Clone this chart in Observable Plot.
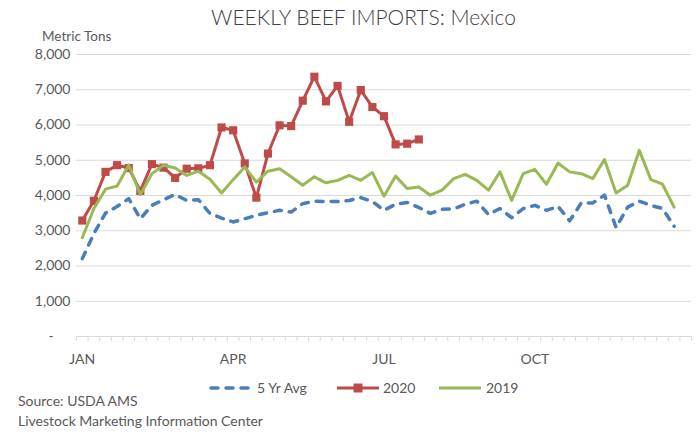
<!DOCTYPE html>
<html><head><meta charset="utf-8">
<script src="https://cdn.jsdelivr.net/npm/d3@7"></script>
<script src="https://cdn.jsdelivr.net/npm/@observablehq/plot@0.6"></script>
<style>
body{margin:0;background:#fff;font-family:Lato,"Open Sans",sans-serif;color:#595959;}
#wrap{position:relative;width:699px;height:432px;overflow:hidden;}
#wrap svg.plot{position:absolute;left:0;top:0;}
.abs{position:absolute;white-space:nowrap;line-height:1.1;}
</style></head>
<body><div id="wrap"></div>
<script>
const title = "WEEKLY BEEF IMPORTS: Mexico";
const yTitle = "Metric Tons";
const sourceLines = ["Source: USDA AMS", "Livestock Marketing Information Center"];
const seriesNames = ["5 Yr Avg", "2020", "2019"];
const seriesColors = ["#4a7ebb", "#be4b48", "#98b954"];
const weekCount = 53;
const monthLabels = ["JAN", "APR", "JUL", "OCT"];
const monthWeeks = [0, 13, 26, 39];
const yTicks = [0, 1000, 2000, 3000, 4000, 5000, 6000, 7000, 8000];

const avg5 = [2210,2920,3500,3690,3910,3340,3720,3880,4030,3860,3880,3490,3360,3250,3340,3440,3510,3580,3530,3770,3840,3830,3830,3860,3940,3830,3580,3750,3800,3660,3490,3610,3620,3750,3840,3460,3630,3370,3630,3720,3580,3690,3280,3790,3790,4010,3090,3670,3840,3720,3630,3130];
const y2020 = [3290,3850,4670,4860,4780,4130,4890,4790,4500,4760,4770,4860,5930,5850,4910,3940,5190,5990,5970,6690,7370,6670,7110,6090,6990,6510,6250,5450,5470,5590];
const y2019 = [2800,3630,4180,4270,4860,4030,4620,4860,4780,4570,4690,4460,4070,4450,4810,4380,4690,4760,4530,4290,4530,4360,4430,4570,4430,4650,3980,4550,4200,4240,4010,4150,4480,4600,4430,4150,4670,3860,4620,4740,4320,4920,4670,4620,4480,5020,4070,4290,5280,4450,4320,3670];

const toRows = arr => arr.map((v, i) => ({x: i + 0.5, y: v}));
const rAvg = toRows(avg5), r20 = toRows(y2020), r19 = toRows(y2019);

const chart = Plot.plot({
  width: 699, height: 432,
  marginLeft: 76, marginRight: 8, marginTop: 54, marginBottom: 96,
  style: {fontFamily: "Lato, sans-serif", fontSize: "14px", color: "#595959", background: "transparent"},
  x: {domain: [0, weekCount], label: null},
  y: {domain: [0, 8000], label: null},
  marks: [
    Plot.ruleY(yTicks.filter(d => d > 0), {stroke: "#d9d9d9", strokeWidth: 1.2}),
    Plot.ruleY([0], {stroke: "#d9d9d9", strokeWidth: 1.2}),
    Plot.axisX({ticks: d3.range(0, weekCount + 1), tickSize: 5, tickFormat: () => "", stroke: "#d9d9d9", strokeOpacity: 1, label: null}),
    Plot.axisX({ticks: monthWeeks.map(w => w + 0.5), tickSize: 0, tickPadding: 18, fontSize: 14, label: null,
      tickFormat: d => monthLabels[monthWeeks.indexOf(d - 0.5)], fill: "#595959"}),
    Plot.axisY({ticks: yTicks.filter(d => d > 0), tickSize: 0, tickPadding: 6, fontSize: 14, label: null,
      tickFormat: d3.format(","), fill: "#595959"}),
    Plot.text([0], {y: d => d, text: () => "-", frameAnchor: "left", dx: -28, fontSize: 14, fill: "#595959"}),
    Plot.line(rAvg, {x: "x", y: "y", stroke: seriesColors[0], strokeWidth: 3.5, strokeDasharray: "7,8", strokeLinecap: "round", strokeLinejoin: "round"}),
    Plot.line(r20, {x: "x", y: "y", stroke: seriesColors[1], strokeWidth: 3, strokeLinejoin: "round"}),
    Plot.dot(r20, {x: "x", y: "y", symbol: "square", r: 4.6, fill: seriesColors[1], stroke: "none"}),
    Plot.line(r19, {x: "x", y: "y", stroke: seriesColors[2], strokeWidth: 3, strokeLinejoin: "round"})
  ]
});
chart.classList.add("plot");
const wrap = document.getElementById("wrap");
wrap.appendChild(chart);

function addText(txt, left, top, css) {
  const d = document.createElement("div");
  d.className = "abs";
  d.textContent = txt;
  d.style.left = left + "px";
  d.style.top = top + "px";
  Object.assign(d.style, css || {});
  wrap.appendChild(d);
  return d;
}
addText(title, 0, 5, {width: "699px", textAlign: "center", fontSize: "21px", fontWeight: "300", color: "#404040", paddingLeft: "28px", boxSizing: "border-box"});
addText(yTitle, 42, 30, {fontSize: "13.5px", color: "#595959", lineHeight: "1"});
addText(sourceLines[0], 18, 393, {fontSize: "14px", color: "#595959"});
addText(sourceLines[1], 18, 413, {fontSize: "14px", color: "#595959"});

// legend
const legendX = [207, 335, 437];
const legendTextX = [257, 383, 486];
seriesNames.forEach((name, i) => {
  const ns = "http://www.w3.org/2000/svg";
  const s = document.createElementNS(ns, "svg");
  s.setAttribute("width", 46); s.setAttribute("height", 14);
  s.style.position = "absolute"; s.style.left = legendX[i] + "px"; s.style.top = "381px";
  const l = document.createElementNS(ns, "line");
  l.setAttribute("x1", 2); l.setAttribute("x2", 44); l.setAttribute("y1", 7); l.setAttribute("y2", 7);
  l.setAttribute("stroke", seriesColors[i]); l.setAttribute("stroke-width", i === 0 ? 3.5 : 3);
  if (i === 0) { l.setAttribute("stroke-dasharray", "7,8"); l.setAttribute("stroke-linecap", "round"); l.setAttribute("x1", 4); }
  s.appendChild(l);
  if (i === 1) {
    const r = document.createElementNS(ns, "rect");
    r.setAttribute("x", 18.5); r.setAttribute("y", 2.5); r.setAttribute("width", 9); r.setAttribute("height", 9);
    r.setAttribute("fill", seriesColors[i]);
    s.appendChild(r);
  }
  wrap.appendChild(s);
  addText(name, legendTextX[i], 380, {fontSize: "14px", color: "#595959"});
});
</script></body></html>
